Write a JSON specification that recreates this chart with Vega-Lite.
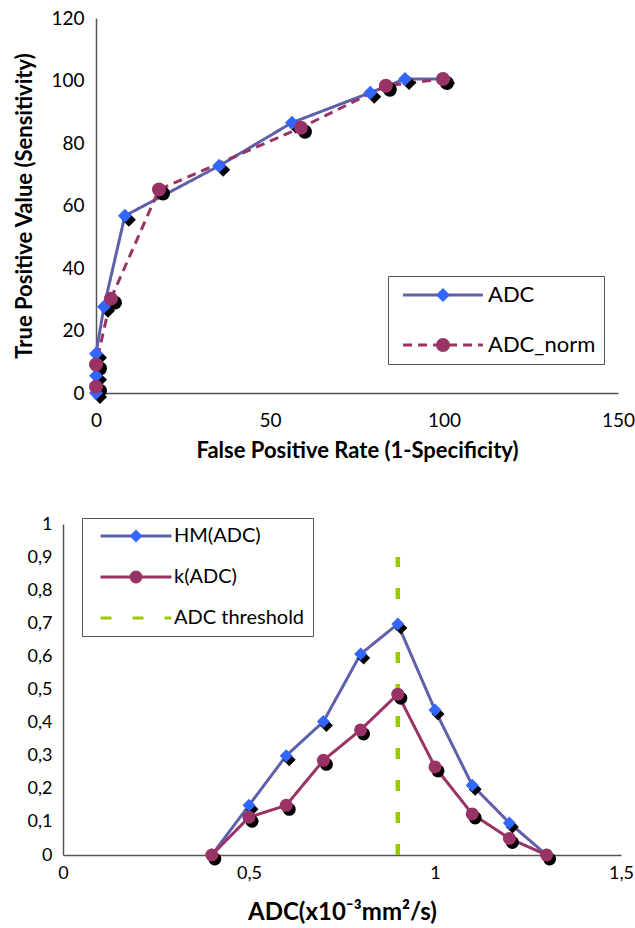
{
  "$schema": "https://vega.github.io/schema/vega-lite/v6.json",
  "padding": {"left": 13, "top": 9, "right": 0, "bottom": 0},
  "spacing": 54,
  "resolve": {
    "scale": {"stroke": "independent", "strokeDash": "independent", "fill": "independent", "shape": "independent"},
    "legend": {"stroke": "independent", "strokeDash": "independent", "fill": "independent", "shape": "independent"}
  },
  "config": {
    "view": {"stroke": null},
    "font": "Lato",
    "axis": {"grid": false, "ticks": false, "domainColor": "#555555", "domainWidth": 1.5, "labelColor": "black", "titleColor": "black", "labelFont": "Lato", "titleFont": "Lato", "titleFontWeight": "bold", "labelFlush": false, "labelOverlap": false}
  },
  "vconcat": [
    {
      "width": 555,
      "height": 375,
      "data": {"values": [
        {"series": "ADC", "marker": "ADC", "fpr": 0, "tpr": 0},
        {"series": "ADC", "marker": "ADC", "fpr": 0, "tpr": 5.5},
        {"series": "ADC", "marker": "ADC", "fpr": 0, "tpr": 12.6},
        {"series": "ADC", "marker": "ADC", "fpr": 2.3, "tpr": 27.6},
        {"series": "ADC", "marker": "ADC", "fpr": 8.3, "tpr": 56.7},
        {"series": "ADC", "marker": "ADC", "fpr": 35.4, "tpr": 72.7},
        {"series": "ADC", "marker": "ADC", "fpr": 56.3, "tpr": 86.5},
        {"series": "ADC", "marker": "ADC", "fpr": 78.8, "tpr": 96.1},
        {"series": "ADC", "marker": "ADC", "fpr": 88.8, "tpr": 100.5},
        {"series": "ADC", "marker": "ADC", "fpr": 100, "tpr": 100.5},
        {"series": "ADC_norm", "marker": "ADC_norm", "fpr": 0, "tpr": 2.0},
        {"series": "ADC_norm", "marker": "ADC_norm", "fpr": 0, "tpr": 9.1},
        {"series": "ADC_norm", "marker": "ADC_norm", "fpr": 4.3, "tpr": 30.2},
        {"series": "ADC_norm", "marker": "ADC_norm", "fpr": 18.1, "tpr": 65.1},
        {"series": "ADC_norm", "marker": "ADC_norm", "fpr": 58.9, "tpr": 84.9},
        {"series": "ADC_norm", "marker": "ADC_norm", "fpr": 83.3, "tpr": 98.3},
        {"series": "ADC_norm", "marker": "ADC_norm", "fpr": 99.7, "tpr": 100.5}
      ]},
      "encoding": {
        "x": {"field": "fpr", "type": "quantitative", "scale": {"domain": [0, 150], "range": [33, 555]},
          "axis": {"values": [0, 50, 100, 150], "title": "False Positive Rate (1-Specificity)", "labelFontSize": 19, "labelPadding": 18, "titleFontSize": 22, "titlePadding": 10}},
        "y": {"field": "tpr", "type": "quantitative", "scale": {"domain": [0, 120]},
          "axis": {"offset": -33, "values": [0, 20, 40, 60, 80, 100, 120], "title": "True Positive Value (Sensitivity)", "labelFontSize": 19, "labelPadding": 12, "titleFontSize": 22, "titlePadding": 14}}
      },
      "layer": [
        {
          "mark": {"type": "line", "strokeWidth": 3},
          "encoding": {
            "order": {"value": null},
            "stroke": {"field": "series", "type": "nominal", "scale": {"range": ["#5f60aa", "#993366"]},
              "legend": {"orient": "none", "legendX": 325, "legendY": 258, "title": null, "symbolType": "M-5.7,0H5.7", "symbolSize": 196, "symbolStrokeWidth": 3, "labelFontSize": 22, "labelFont": "Lato", "labelColor": "black", "padding": 8, "rowPadding": 28, "strokeColor": "#555555", "symbolOffset": 36, "labelOffset": 34}},
            "strokeDash": {"field": "series", "type": "nominal", "scale": {"range": [[1, 0], [9, 6]]},
              "legend": {"orient": "none", "legendX": 325, "legendY": 258, "title": null, "symbolType": "M-5.7,0H5.7", "symbolSize": 196, "symbolStrokeWidth": 3, "labelFontSize": 22, "labelFont": "Lato", "labelColor": "black", "padding": 8, "rowPadding": 28, "strokeColor": "#555555", "symbolOffset": 36, "labelOffset": 34}}
          }
        },
        {
          "mark": {"type": "point", "filled": true, "opacity": 1, "size": 196, "fill": "black", "xOffset": 4, "yOffset": 4},
          "encoding": {
            "shape": {"field": "marker", "type": "nominal", "scale": {"domain": ["ADC", "ADC_norm"], "range": ["diamond", "circle"]}}
          }
        },
        {
          "mark": {"type": "point", "filled": true, "opacity": 1, "size": 196},
          "encoding": {
            "fill": {"field": "marker", "type": "nominal", "scale": {"domain": ["ADC", "ADC_norm"], "range": ["#3366ff", "#993366"]},
              "legend": {"orient": "none", "legendX": 325, "legendY": 258, "title": null, "symbolSize": 196, "symbolStrokeWidth": 0, "symbolOpacity": 1, "labelFontSize": 22, "labelFont": "Lato", "labelOpacity": 0, "padding": 8, "rowPadding": 28, "symbolOffset": 36, "labelOffset": 34}},
            "shape": {"field": "marker", "type": "nominal", "scale": {"domain": ["ADC", "ADC_norm"], "range": ["diamond", "circle"]},
              "legend": {"orient": "none", "legendX": 325, "legendY": 258, "title": null, "symbolSize": 196, "symbolStrokeWidth": 0, "symbolOpacity": 1, "labelFontSize": 22, "labelFont": "Lato", "labelOpacity": 0, "padding": 8, "rowPadding": 28, "symbolOffset": 36, "labelOffset": 34}}
          }
        }
      ]
    },
    {
      "width": 558,
      "height": 331,
      "data": {"values": [
        {"series": "HM(ADC)", "marker": "HM(ADC)", "adc": 0.4, "v": 0},
        {"series": "HM(ADC)", "marker": "HM(ADC)", "adc": 0.5, "v": 0.15},
        {"series": "HM(ADC)", "marker": "HM(ADC)", "adc": 0.6, "v": 0.3},
        {"series": "HM(ADC)", "marker": "HM(ADC)", "adc": 0.7, "v": 0.403},
        {"series": "HM(ADC)", "marker": "HM(ADC)", "adc": 0.8, "v": 0.607},
        {"series": "HM(ADC)", "marker": "HM(ADC)", "adc": 0.9, "v": 0.698},
        {"series": "HM(ADC)", "marker": "HM(ADC)", "adc": 1.0, "v": 0.438},
        {"series": "HM(ADC)", "marker": "HM(ADC)", "adc": 1.1, "v": 0.211},
        {"series": "HM(ADC)", "marker": "HM(ADC)", "adc": 1.2, "v": 0.097},
        {"series": "HM(ADC)", "marker": "HM(ADC)", "adc": 1.3, "v": 0},
        {"series": "k(ADC)", "marker": "k(ADC)", "adc": 0.4, "v": 0},
        {"series": "k(ADC)", "marker": "k(ADC)", "adc": 0.5, "v": 0.114},
        {"series": "k(ADC)", "marker": "k(ADC)", "adc": 0.6, "v": 0.15},
        {"series": "k(ADC)", "marker": "k(ADC)", "adc": 0.7, "v": 0.286},
        {"series": "k(ADC)", "marker": "k(ADC)", "adc": 0.8, "v": 0.378},
        {"series": "k(ADC)", "marker": "k(ADC)", "adc": 0.9, "v": 0.486},
        {"series": "k(ADC)", "marker": "k(ADC)", "adc": 1.0, "v": 0.266},
        {"series": "k(ADC)", "marker": "k(ADC)", "adc": 1.1, "v": 0.124},
        {"series": "k(ADC)", "marker": "k(ADC)", "adc": 1.2, "v": 0.05},
        {"series": "k(ADC)", "marker": "k(ADC)", "adc": 1.3, "v": 0},
        {"series": "ADC threshold", "adc": 0.9, "v": 0},
        {"series": "ADC threshold", "adc": 0.9, "v": 0.9}
      ]},
      "encoding": {
        "x": {"field": "adc", "type": "quantitative", "scale": {"domain": [0, 1.5]},
          "axis": {"values": [0, 0.5, 1, 1.5], "format": "~g", "labelExpr": "replace(datum.label, '.', ',')", "title": "ADC(x10⁻³mm²/s)", "labelFontSize": 18, "labelPadding": 9, "titleFontSize": 24, "titlePadding": 18}},
        "y": {"field": "v", "type": "quantitative", "scale": {"domain": [0, 1]},
          "axis": {"values": [0, 0.1, 0.2, 0.3, 0.4, 0.5, 0.6, 0.7, 0.8, 0.9, 1], "format": "~g", "labelExpr": "replace(datum.label, '.', ',')", "title": null, "labelFontSize": 18, "labelPadding": 11}}
      },
      "layer": [
        {
          "mark": {"type": "line", "strokeWidth": 3},
          "encoding": {
            "order": {"value": null},
            "stroke": {"field": "series", "type": "nominal", "sort": {"field": "v", "op": "sum", "order": "descending"}, "scale": {"range": ["#5f60aa", "#993366", "#99cc00"]},
              "legend": {"orient": "none", "legendX": 19, "legendY": -6, "title": null, "symbolType": "M-5.46,0H5.46", "symbolSize": 169, "symbolStrokeWidth": 3, "labelFontSize": 20, "labelFont": "Lato", "labelColor": "black", "padding": 8, "rowPadding": 21, "strokeColor": "#555555", "symbolOffset": 36, "labelOffset": 28}},
            "strokeDash": {"field": "series", "type": "nominal", "sort": {"field": "v", "op": "sum", "order": "descending"}, "scale": {"range": [[1, 0], [1, 0], [11, 21]]},
              "legend": {"orient": "none", "legendX": 19, "legendY": -6, "title": null, "symbolType": "M-5.46,0H5.46", "symbolSize": 169, "symbolStrokeWidth": 3, "labelFontSize": 20, "labelFont": "Lato", "labelColor": "black", "padding": 8, "rowPadding": 21, "strokeColor": "#555555", "symbolOffset": 36, "labelOffset": 28}}
          }
        },
        {
          "transform": [{"filter": "datum.series == 'ADC threshold'"}],
          "mark": {"type": "line", "strokeWidth": 4.5, "stroke": "#99cc00", "strokeDash": [11, 21]},
          "encoding": {"order": {"value": null}}
        },
        {
          "transform": [{"filter": "datum.series != 'ADC threshold'"}],
          "mark": {"type": "point", "filled": true, "opacity": 1, "size": 169, "fill": "black", "xOffset": 3, "yOffset": 4},
          "encoding": {
            "shape": {"field": "marker", "type": "nominal", "scale": {"domain": ["HM(ADC)", "k(ADC)", "ADC threshold"], "range": ["diamond", "circle", "circle"]}}
          }
        },
        {
          "transform": [{"filter": "datum.series != 'ADC threshold'"}],
          "mark": {"type": "point", "filled": true, "opacity": 1, "size": 169},
          "encoding": {
            "fill": {"field": "marker", "type": "nominal", "scale": {"domain": ["HM(ADC)", "k(ADC)", "ADC threshold"], "range": ["#3366ff", "#993366", "transparent"]},
              "legend": {"orient": "none", "legendX": 19, "legendY": -6, "title": null, "symbolSize": 169, "symbolStrokeWidth": 0, "symbolOpacity": 1, "labelFontSize": 20, "labelFont": "Lato", "labelOpacity": 0, "padding": 8, "rowPadding": 21, "symbolOffset": 36, "labelOffset": 28}},
            "shape": {"field": "marker", "type": "nominal", "scale": {"domain": ["HM(ADC)", "k(ADC)", "ADC threshold"], "range": ["diamond", "circle", "circle"]},
              "legend": {"orient": "none", "legendX": 19, "legendY": -6, "title": null, "symbolSize": 169, "symbolStrokeWidth": 0, "symbolOpacity": 1, "labelFontSize": 20, "labelFont": "Lato", "labelOpacity": 0, "padding": 8, "rowPadding": 21, "symbolOffset": 36, "labelOffset": 28}}
          }
        }
      ]
    }
  ]
}
